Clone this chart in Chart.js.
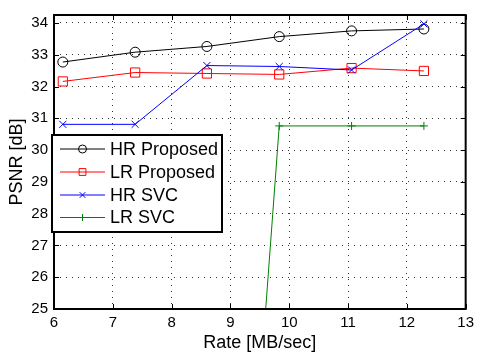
<!DOCTYPE html>
<html>
<head>
<meta charset="utf-8">
<script src="https://cdn.jsdelivr.net/npm/chart.js@4/dist/chart.umd.min.js"></script>
<style>
  html, body { margin: 0; padding: 0; background: #fff; }
  #wrap { width: 479px; height: 354px; }
</style>
</head>
<body>
<div id="wrap"><canvas id="psnrChart" width="479" height="354"></canvas></div>
<script>
// rate axis (MB/sec) and PSNR values (dB)
const rates = [6.15, 7.38, 8.60, 9.83, 11.06, 12.29];
const hrProposed = [32.77, 33.08, 33.26, 33.57, 33.75, 33.81];
const lrProposed = [32.16, 32.44, 32.41, 32.38, 32.58, 32.49];
const hrSvc = [30.81, 30.81, 32.66, 32.63, 32.52, 33.97];
const lrSvc = [null, null, 0, 30.76, 30.76, 30.76];

const seriesNames = ['HR Proposed', 'LR Proposed', 'HR SVC', 'LR SVC'];
const seriesColors = ['#000000', '#ff0000', '#0000ff', '#008000'];
const seriesMarkers = ['circle', 'rect', 'crossRot', 'cross'];
const markerSizes = [5, 6.5, 5, 4];
const legendSizes = [4, 4.8, 4, 3.5];

const xTicks = [6, 7, 8, 9, 10, 11, 12, 13];
const yTicks = [25, 26, 27, 28, 29, 30, 31, 32, 33, 34];

const FONT = 'Liberation Sans, Arial, Helvetica, sans-serif';

function toPoints(vals) {
  return rates.map((r, i) => ({ x: r, y: vals[i] }));
}

const allSeries = [hrProposed, lrProposed, hrSvc, lrSvc];

const datasets = allSeries.map((vals, i) => ({
  label: seriesNames[i],
  data: toPoints(vals),
  borderColor: seriesColors[i],
  backgroundColor: 'rgba(0,0,0,0)',
  borderWidth: 1,
  pointStyle: seriesMarkers[i],
  pointRadius: markerSizes[i],
  pointBorderWidth: 1,
  pointBorderColor: seriesColors[i],
  pointBackgroundColor: 'rgba(0,0,0,0)',
  pointHoverRadius: markerSizes[i],
  tension: 0,
  fill: false,
  order: 4 - i
}));

// box around the axes + inward tick marks like matlab
const framePlugin = {
  id: 'frame',
  afterDatasetsDraw(chart) {
    const ctx = chart.ctx;
    const a = chart.chartArea;
    const xs = chart.scales.x, ys = chart.scales.y;
    ctx.save();
    ctx.strokeStyle = '#000';
    ctx.lineWidth = 1;
    ctx.beginPath();
    xTicks.forEach(v => {
      const px = Math.round(xs.getPixelForValue(v)) + 0.5;
      ctx.moveTo(px, a.bottom); ctx.lineTo(px, a.bottom - 5);
      ctx.moveTo(px, a.top); ctx.lineTo(px, a.top + 5);
    });
    yTicks.forEach(v => {
      const py = Math.round(ys.getPixelForValue(v)) + 0.5;
      ctx.moveTo(a.left, py); ctx.lineTo(a.left + 5, py);
      ctx.moveTo(a.right, py); ctx.lineTo(a.right - 5, py);
    });
    ctx.stroke();
    ctx.lineWidth = 2;
    ctx.strokeRect(a.left, a.top, a.right - a.left, a.bottom - a.top);
    ctx.restore();
  }
};

const legendPlugin = {
  id: 'boxLegend',
  afterDraw(chart) {
    const ctx = chart.ctx;
    const box = { x: 52, y: 135, w: 170, h: 97 };
    ctx.save();
    ctx.fillStyle = '#fff';
    ctx.fillRect(box.x, box.y, box.w, box.h);
    ctx.strokeStyle = '#000';
    ctx.lineWidth = 2;
    ctx.strokeRect(box.x, box.y, box.w, box.h);
    const rowY = [149, 172, 195, 217.5];
    seriesNames.forEach((name, i) => {
      const y = rowY[i];
      ctx.strokeStyle = seriesColors[i];
      ctx.lineWidth = 1;
      ctx.beginPath();
      ctx.moveTo(60, y); ctx.lineTo(105, y);
      ctx.stroke();
      ctx.fillStyle = 'rgba(0,0,0,0)';
      if (Chart.helpers && Chart.helpers.drawPoint) {
        Chart.helpers.drawPoint(ctx, {
          pointStyle: seriesMarkers[i], radius: legendSizes[i], rotation: 0, borderWidth: 1
        }, 82.5, y);
      }
      ctx.fillStyle = '#000';
      ctx.font = '18px ' + FONT;
      ctx.textAlign = 'left';
      ctx.textBaseline = 'middle';
      ctx.fillText(name, 110, y + 1);
    });
    ctx.restore();
  }
};

new Chart(document.getElementById('psnrChart'), {
  type: 'line',
  data: { datasets: datasets },
  options: {
    responsive: false,
    animation: false,
    events: [],
    layout: { padding: { top: 5, right: 7, left: 0, bottom: 0 } },
    plugins: {
      legend: { display: false },
      tooltip: { enabled: false }
    },
    scales: {
      x: {
        type: 'linear',
        min: 6,
        max: 13,
        afterFit(scale) { scale.height = 45; },
        afterBuildTicks(scale) { scale.ticks = xTicks.map(v => ({ value: v })); },
        ticks: { color: '#000', font: { family: FONT, size: 15 }, padding: 5 },
        grid: { color: 'rgba(0,0,0,0.8)', lineWidth: 1, drawTicks: false },
        border: { display: false, dash: [1, 5] },
        title: {
          display: true, text: 'Rate [MB/sec]', color: '#000',
          font: { family: FONT, size: 18 }, padding: { top: 0, bottom: 0 }
        }
      },
      y: {
        min: 25,
        max: 34.25,
        afterFit(scale) { scale.width = 54; },
        afterBuildTicks(scale) { scale.ticks = yTicks.map(v => ({ value: v })); },
        ticks: { color: '#000', font: { family: FONT, size: 15 }, padding: 6 },
        grid: { color: 'rgba(0,0,0,0.8)', lineWidth: 1, drawTicks: false },
        border: { display: false, dash: [1, 5] },
        title: {
          display: true, text: 'PSNR [dB]', color: '#000',
          font: { family: FONT, size: 18 }, padding: { top: 6, bottom: 0 }
        }
      }
    }
  },
  plugins: [framePlugin, legendPlugin]
});
</script>
</body>
</html>
